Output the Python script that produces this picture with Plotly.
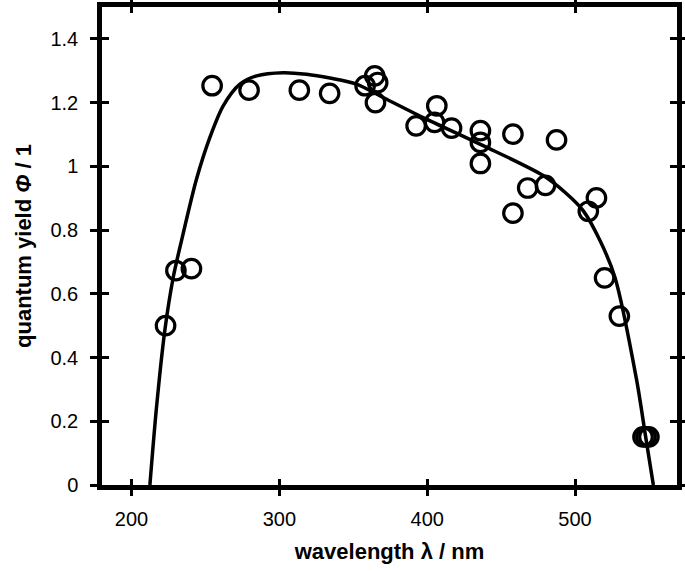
import plotly.graph_objects as go

# measured data points (wavelength nm, quantum yield)
wl_pts = [223, 230, 240.5, 254.5, 279.5, 313.5, 334, 358, 364.5, 366.5, 365, 392.5,
          406.5, 405, 416.5, 436, 436, 436, 458, 487.5, 468, 480, 458, 514.5, 509,
          520, 530, 546, 548, 550]
qy_pts = [0.50, 0.673, 0.679, 1.253, 1.239, 1.239, 1.229, 1.253, 1.284, 1.263, 1.20, 1.127,
          1.19, 1.138, 1.12, 1.112, 1.075, 1.009, 1.101, 1.083, 0.932, 0.94, 0.853, 0.901, 0.859,
          0.65, 0.53, 0.151, 0.151, 0.151]

# fitted curve
wl_fit = [212.4, 216.9, 222.5, 228.2, 233.8, 244, 253, 262, 273.3, 284.6, 302.6, 318.4,
          334.2, 352.2, 370.2, 397.3, 437.9, 478.5, 494.3, 505.5, 516.9, 527,
          541.7, 547.8, 553]
qy_fit = [0.0, 0.245, 0.485, 0.652, 0.767, 0.961, 1.091, 1.19, 1.258, 1.284, 1.294, 1.289,
          1.277, 1.258, 1.216, 1.153, 1.065, 0.971, 0.914, 0.861, 0.767, 0.652,
          0.329, 0.151, 0.0]

x_ticks = [200, 300, 400, 500]
y_ticks = [0, 0.2, 0.4, 0.6, 0.8, 1.0, 1.2, 1.4]

fig = go.Figure()
fig.add_trace(go.Scatter(x=wl_fit, y=qy_fit, mode="lines",
                         line=dict(color="black", width=3.5, shape="spline", smoothing=0.8),
                         hoverinfo="skip", showlegend=False))
fig.add_trace(go.Scatter(x=wl_pts, y=qy_pts, mode="markers",
                         marker=dict(symbol="circle-open", size=18.5, color="black",
                                     line=dict(width=3.2, color="black")),
                         showlegend=False))

font_family = "Liberation Sans, Arial, sans-serif"
axis_common = dict(showgrid=False, zeroline=False, showline=True, linecolor="black", linewidth=4.5,
                   tickcolor="black", tickwidth=3)

fig.update_layout(
    width=685, height=571,
    margin=dict(l=102, r=8, t=6.5, b=86, autoexpand=False),
    paper_bgcolor="white", plot_bgcolor="white",
    font=dict(family=font_family, size=20, color="black"),
    xaxis=dict(range=[180, 569], tickvals=x_ticks, ticks="outside", ticklen=6, mirror="ticks",
               tickfont=dict(size=20), ticklabelstandoff=6,
               title=dict(text="wavelength λ / nm", font=dict(size=22, weight="bold"), standoff=16),
               **axis_common),
    yaxis=dict(range=[0, 1.5], tickvals=y_ticks, ticks="outside", ticklen=7, mirror="ticks",
               tickfont=dict(size=20), ticklabelstandoff=8,
               title=dict(text="quantum yield <i>Φ</i> / 1", font=dict(size=22, weight="bold"), standoff=14),
               **axis_common),
    xaxis2=dict(overlaying="x", matches="x", range=[180, 569], tickvals=x_ticks, ticks="inside", ticklen=6,
                mirror="ticks", showticklabels=False, **axis_common),
    yaxis2=dict(overlaying="y", matches="y", range=[0, 1.5], tickvals=y_ticks, ticks="inside", ticklen=7,
                mirror="ticks", showticklabels=False, **axis_common),
)
# dummy trace to activate overlay axes
fig.add_trace(go.Scatter(x=[None], y=[None], xaxis="x2", yaxis="y2", showlegend=False, hoverinfo="skip"))

fig.write_html("out.html", config={"displayModeBar": False},
               post_script="document.body.style.margin='0';")
